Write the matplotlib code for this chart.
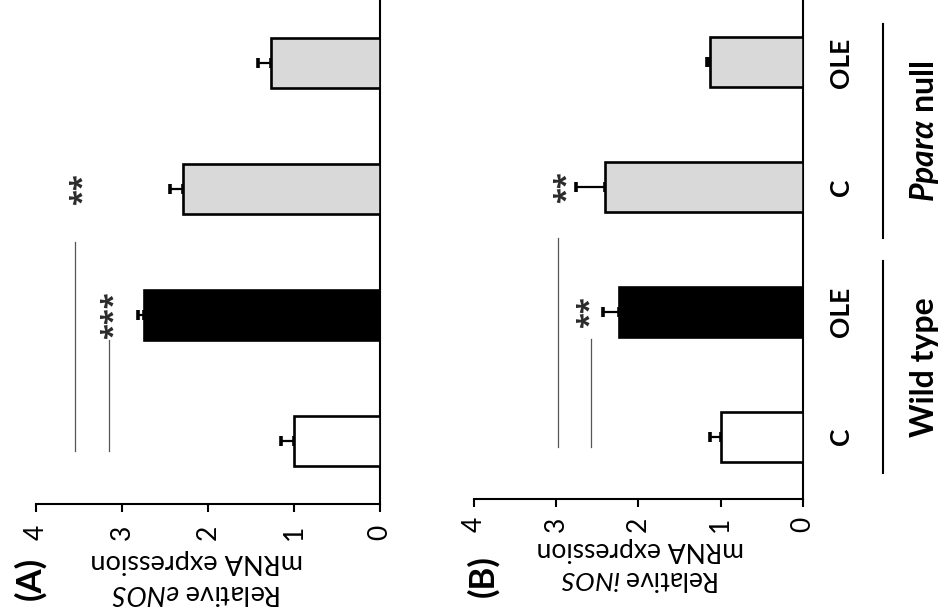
import matplotlib
matplotlib.use("Agg")
import matplotlib.pyplot as plt
import matplotlib.transforms as mtransforms
import numpy as np

plt.rcParams['font.family'] = ['Lato', 'DejaVu Sans']
plt.rcParams['mathtext.fontset'] = 'custom'
plt.rcParams['mathtext.rm'] = 'Lato'
plt.rcParams['mathtext.it'] = 'Lato:italic'
plt.rcParams['mathtext.bf'] = 'Lato:bold'
plt.rcParams['mathtext.bfit'] = 'Lato:italic:bold'

# ---------------- data ----------------
categories = ['C', 'OLE', 'C', 'OLE']
groups = ['Wild type', r'$\mathbfit{Ppar\alpha}$ null']
enos_mean = [1.00, 2.74, 2.29, 1.27]
enos_err = [0.15, 0.07, 0.15, 0.15]
inos_mean = [1.00, 2.24, 2.41, 1.13]
inos_err = [0.13, 0.19, 0.35, 0.04]
value_ticks = [0, 1, 2, 3, 4]

# significance brackets: (level, from category, to category)
enos_sig_lines = [(3.55, -0.08, 1.58), (3.15, -0.08, 0.80)]
enos_stars = [('***', 3.17, 1), ('**', 3.52, 2)]
inos_sig_lines = [(2.98, -0.08, 1.59), (2.58, -0.08, 0.78)]
inos_stars = [('**', 2.67, 1), ('**', 2.95, 2)]

bar_colors = ['white', 'black', '#d9d9d9', '#d9d9d9']

W, H = 945, 616
fig = plt.figure(figsize=(W / 100, H / 100), dpi=100)


def px_axes(l, r, t, b):
    return [l / W, 1 - b / H, (r - l) / W, (b - t) / H]


def panel(ax, mean, err, sig_lines, stars, pad):
    pos = np.arange(len(mean))
    ax.barh(pos, mean, height=0.4, color=bar_colors, edgecolor='black',
            linewidth=1.9, zorder=3)
    ax.errorbar(mean, pos, xerr=[np.zeros(len(err)), err], fmt='none',
                ecolor='black', elinewidth=1.6, capsize=3.5, capthick=2.6,
                zorder=2)
    for lvl, y0, y1 in sig_lines:
        ax.plot([lvl, lvl], [y0, y1], color='#555555', lw=0.9, zorder=1)
    star_tr = mtransforms.offset_copy(ax.transData, fig=fig, x=4.5, y=0,
                                      units='points')
    for s, lvl, cat in stars:
        ax.text(lvl, cat, s, rotation=90, ha='center', va='center',
                fontsize=21, fontweight='bold', color='#2a2a2a',
                family='Open Sans', transform=star_tr)
    ax.set_xlim(4, 0)
    ax.set_ylim(-0.5, 3.5)
    ax.set_xticks(value_ticks)
    ax.set_xticklabels([str(v) for v in value_ticks])
    ax.set_yticks([])
    ax.tick_params(axis='x', direction='out', length=6, width=1.5,
                   labelsize=19, pad=pad, labelrotation=90)
    for sp in ['left', 'top']:
        ax.spines[sp].set_visible(False)
    for sp in ['right', 'bottom']:
        ax.spines[sp].set_linewidth(1.5)


axA = fig.add_axes(px_axes(36, 380, 0, 504))
panel(axA, enos_mean, enos_err, enos_sig_lines, enos_stars, 9)

axB = fig.add_axes(px_axes(474, 803, 0, 499))
panel(axB, inos_mean, inos_err, inos_sig_lines, inos_stars, 7)

# category labels (panel B only)
tr = axB.get_yaxis_transform()
for i, c in enumerate(categories):
    axB.text(1.115, i, c, transform=tr, rotation=90, ha='center', va='center',
             fontsize=19, fontweight='bold', clip_on=False)

# group lines and labels
group_spans = [(-0.29, 1.41), (1.59, 3.31)]
for (y0, y1), g in zip(group_spans, groups):
    axB.plot([1.243, 1.243], [y0, y1], transform=tr, color='black', lw=1.5,
             clip_on=False)
    axB.text(1.37, (y0 + y1) / 2, g, transform=tr, rotation=90,
             ha='center', va='center', fontsize=23, fontweight='bold',
             clip_on=False)

# axis titles (upside down) and panel letters
fig.text(197 / W, 1 - 577 / H, 'Relative $\\mathit{eNOS}$\nmRNA expression',
         rotation=180, ha='center', va='center', fontsize=19.5,
         linespacing=1.3, multialignment='center')
fig.text(640 / W, 1 - 564 / H, 'Relative $\\mathit{iNOS}$\nmRNA expression',
         rotation=180, ha='center', va='center', fontsize=19,
         linespacing=1.2, multialignment='center')
fig.text(30 / W, 1 - 578 / H, '(A)', rotation=90, ha='center', va='center',
         fontsize=25, fontweight='bold')
fig.text(483 / W, 1 - 576 / H, '(B)', rotation=90, ha='center', va='center',
         fontsize=25, fontweight='bold')

fig.savefig('out.png', dpi=100, facecolor='white')
